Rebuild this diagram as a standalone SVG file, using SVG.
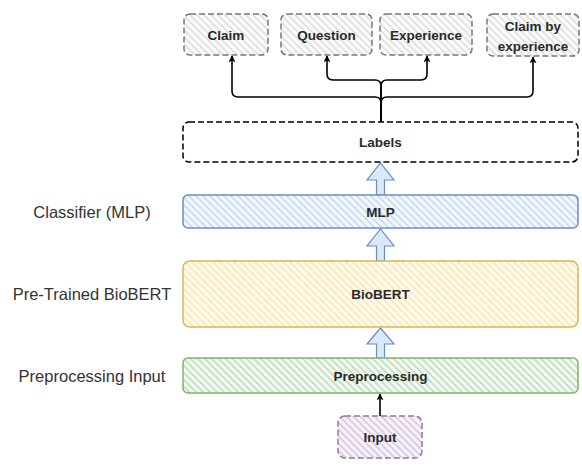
<svg xmlns="http://www.w3.org/2000/svg" width="582" height="466" viewBox="0 0 582 466">
<style>
  .t { font-family: "Liberation Sans", Arial, sans-serif; font-weight: bold; font-size: 13.5px; fill: #2a2a2a; text-anchor: middle; }
  .side { font-family: "Liberation Sans", Arial, sans-serif; font-size: 16.5px; fill: #333; text-anchor: middle; }
  .edge { fill: none; stroke: #000; stroke-width: 1.6; }
  .blk { fill: #dae8fc; stroke: #6c8ebf; stroke-width: 1.2; }
</style>
<defs>
  <pattern id="hg" patternUnits="userSpaceOnUse" width="7" height="7"><rect width="7" height="7" fill="#fbfbfb"/><path d="M-1,-1 L8,8 M-4,3 L4,11 M3,-4 L11,4" stroke="#e0e0e0" stroke-width="1.6"/></pattern>
  <pattern id="hb" patternUnits="userSpaceOnUse" width="7" height="7"><rect width="7" height="7" fill="#f4f8fe"/><path d="M-1,-1 L8,8 M-4,3 L4,11 M3,-4 L11,4" stroke="#c9dbf5" stroke-width="1.6"/></pattern>
  <pattern id="hy" patternUnits="userSpaceOnUse" width="7" height="7"><rect width="7" height="7" fill="#fffbef"/><path d="M-1,-1 L8,8 M-4,3 L4,11 M3,-4 L11,4" stroke="#fbe8b4" stroke-width="1.6"/></pattern>
  <pattern id="hgr" patternUnits="userSpaceOnUse" width="7" height="7"><rect width="7" height="7" fill="#f2f8f1"/><path d="M-1,-1 L8,8 M-4,3 L4,11 M3,-4 L11,4" stroke="#c3dfbf" stroke-width="1.6"/></pattern>
  <pattern id="hp" patternUnits="userSpaceOnUse" width="7" height="7"><rect width="7" height="7" fill="#f7f2f9"/><path d="M-1,-1 L8,8 M-4,3 L4,11 M3,-4 L11,4" stroke="#d9c9e0" stroke-width="1.6"/></pattern>
  <marker id="ah" viewBox="0 0 10 10" refX="9" refY="5" markerWidth="7" markerHeight="7" markerUnits="userSpaceOnUse" orient="auto"><path d="M0,0 L10,5 L0,10 L2.5,5 Z" fill="#000"/></marker>
</defs>

<g id="side-labels">
  <text class="side" x="92" y="218">Classifier (MLP)</text>
  <text class="side" x="92" y="300">Pre-Trained BioBERT</text>
  <text class="side" x="92" y="382">Preprocessing Input</text>
</g>

<g id="connectors">
  <path class="edge" d="M381,122 V103 Q381,97 375,97 H238 Q232,97 232,91 V56" marker-end="url(#ah)"/>
  <path class="edge" d="M381,122 V103 Q381,97 387,97 H527 Q533,97 533,91 V57" marker-end="url(#ah)"/>
  <path class="edge" d="M381,122 V86 Q381,80 375,80 H333 Q327,80 327,74 V56" marker-end="url(#ah)"/>
  <path class="edge" d="M381,122 V86 Q381,80 387,80 H421 Q427,80 427,74 V56" marker-end="url(#ah)"/>
  <path class="edge" d="M380,416 V394" marker-end="url(#ah)"/>
  <path class="blk" d="M376.5,195 V180 H367 L380.5,163 L394,180 H384.5 V195 Z"/>
  <path class="blk" d="M376.5,261 V246 H367 L380.5,229 L394,246 H384.5 V261 Z"/>
  <path class="blk" d="M376.5,358 V344 H367 L380.5,328 L394,344 H384.5 V358 Z"/>
</g>

<g id="claim">
  <rect x="184" y="14" width="84" height="41" rx="6" fill="url(#hg)" stroke="#777" stroke-width="1.5" stroke-dasharray="6 3"/>
  <text class="t" x="226" y="39.5">Claim</text>
</g>
<g id="question">
  <rect x="281" y="14" width="91" height="41" rx="6" fill="url(#hg)" stroke="#777" stroke-width="1.5" stroke-dasharray="6 3"/>
  <text class="t" x="326.5" y="39.5">Question</text>
</g>
<g id="experience">
  <rect x="380" y="14" width="92" height="41" rx="6" fill="url(#hg)" stroke="#777" stroke-width="1.5" stroke-dasharray="6 3"/>
  <text class="t" x="426" y="39.5">Experience</text>
</g>
<g id="claim-by-experience">
  <rect x="487" y="14" width="92" height="42" rx="6" fill="url(#hg)" stroke="#777" stroke-width="1.5" stroke-dasharray="6 3"/>
  <text class="t" x="533" y="31">Claim by</text>
  <text class="t" x="533" y="51">experience</text>
</g>
<g id="labels">
  <rect x="183" y="122" width="395" height="40" rx="6" fill="#fff" stroke="#000" stroke-width="1.5" stroke-dasharray="6 3"/>
  <text class="t" x="380.5" y="146.5">Labels</text>
</g>
<g id="mlp">
  <rect x="183" y="195" width="395" height="33" rx="5" fill="url(#hb)" stroke="#6c8ebf" stroke-width="1.5"/>
  <text class="t" x="380.5" y="216.5">MLP</text>
</g>
<g id="biobert">
  <rect x="183" y="261" width="395" height="66" rx="7" fill="url(#hy)" stroke="#d6b656" stroke-width="1.5"/>
  <text class="t" x="380.5" y="298.5">BioBERT</text>
</g>
<g id="preprocessing">
  <rect x="183" y="358" width="395" height="35" rx="5" fill="url(#hgr)" stroke="#82b366" stroke-width="1.5"/>
  <text class="t" x="380.5" y="380.5">Preprocessing</text>
</g>
<g id="input">
  <rect x="338" y="416" width="84" height="42" rx="7" fill="url(#hp)" stroke="#9673a6" stroke-width="1.5" stroke-dasharray="6 3"/>
  <text class="t" x="380" y="441.5">Input</text>
</g>
</svg>
